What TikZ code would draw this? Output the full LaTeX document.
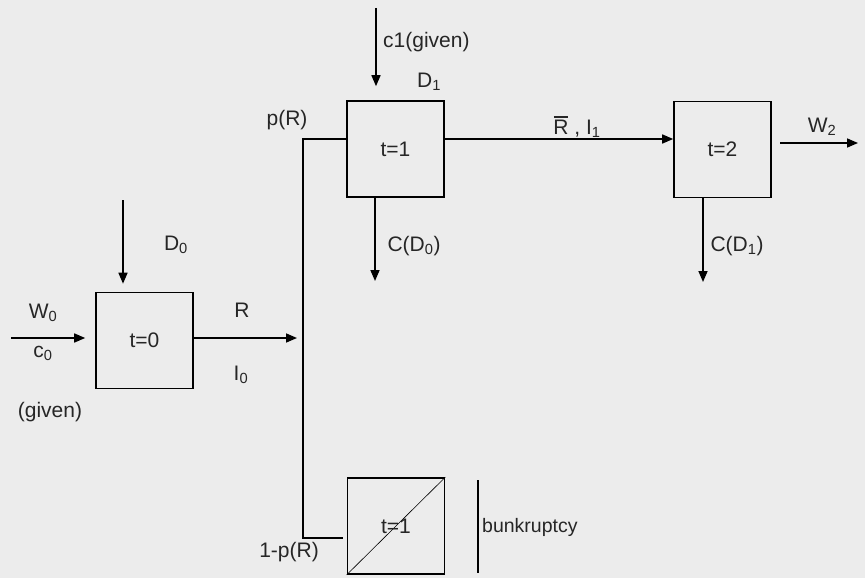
\documentclass[tikz,border=0pt]{standalone}
\usepackage{fontspec}
\setmainfont{Liberation Sans}
\usetikzlibrary{arrows.meta}
\definecolor{bg}{RGB}{236,236,236}
\newcommand{\myBarR}{\leavevmode\rlap{\hspace{0.5pt}\rule[17pt]{14pt}{1.3pt}}R}
\tikzset{
  stage/.style={draw, line width=1.6pt, minimum width=97pt, minimum height=96pt, inner sep=0pt},
  arr/.style={line width=1.6pt, -{Triangle[length=11pt,width=9pt]}},
  ln/.style={line width=1.6pt},
  lbl/.style={font=\fontsize{21}{24}\selectfont, inner sep=0pt, text=black!85},
}
\begin{document}
\begin{tikzpicture}[x=1pt,y=-1pt]
\fill[bg] (0,0) rectangle (865,578);
\useasboundingbox (0,0) rectangle (865,578);
% boxes
\node[stage] (b0) at (144.5,340.5) {};
\node[stage] (b1) at (395.5,149) {};
\node[stage] (b2) at (722.5,149.5) {};
\node[stage] (b3) at (396,526) {};
\node[lbl] (t0) at (b0) {t=0};
\node[lbl] (t1) at (b1) {t=1};
\node[lbl] (t2) at (b2) {t=2};
\draw[line width=0.6pt] (b3.south west) -- (b3.north east);
\node[lbl] (t1b) at (b3) {t=1};
% coordinates
\coordinate (in0) at (11,338);
\coordinate (d0top) at (123,200);
\coordinate (jt) at (303,139);
\coordinate (jb) at (303,538);
\coordinate (c1top) at (376,8);
\coordinate (cd0) at (375,281);
\coordinate (cd1) at (703,282);
\coordinate (w2s) at (780,143);
\coordinate (w2e) at (858,143);
\coordinate (bkt) at (478,480);
\coordinate (bkb) at (478,573);
% connectors
\draw[arr, shorten >=10pt] (in0) -- (in0 -| b0.west);
\draw[arr, shorten >=8pt] (d0top) -- (d0top |- b0.north);
\draw[arr, shorten >=6pt] (b0.east |- in0) -- (jb |- in0);
\draw[ln] (jt -| b1.west) -- (jt) -- (jb) -- ([xshift=-4pt]jb -| b3.west);
\draw[arr, shorten >=14pt] (c1top) -- (c1top |- b1.north);
\draw[arr] (cd0 |- b1.south) -- (cd0);
\draw[arr] (b1.east |- jt) -- (b2.west |- jt);
\draw[arr] (cd1 |- b2.south) -- (cd1);
\draw[arr] (w2s) -- (w2e);
\draw[ln] (bkt) -- (bkb);
% labels
\node[lbl] (lw0) at (43,313) {W\textsubscript{0}};
\node[lbl] (lc0) at (43,353) {c\textsubscript{0}};
\node[lbl] (lg0) at (50,412) {(given)};
\node[lbl] (ld0) at (176,245) {D\textsubscript{0}};
\node[lbl] (lr) at (242,310) {R};
\node[lbl] (li0) at (241,375) {I\textsubscript{0}};
\node[lbl] (lpr) at (287,120) {p(R)};
\node[lbl, anchor=west] (lc1) at (383,42) {c1(given)};
\node[lbl] (ld1) at (429,82) {D\textsubscript{1}};
\node[lbl] (lcd0) at (414,246) {C(D\textsubscript{0})};
\node[lbl] (lri) at (577,127) {\myBarR\ , I\textsubscript{1}};
\node[lbl] (lw2) at (822,127) {W\textsubscript{2}};
\node[lbl] (lcd1) at (737,246) {C(D\textsubscript{1})};
\node[lbl, anchor=west, font=\fontsize{19.5}{22}\selectfont] (lbk) at (482,527) {bunkruptcy};
\node[lbl] (l1pr) at (289,552) {1-p(R)};
\end{tikzpicture}
\end{document}
